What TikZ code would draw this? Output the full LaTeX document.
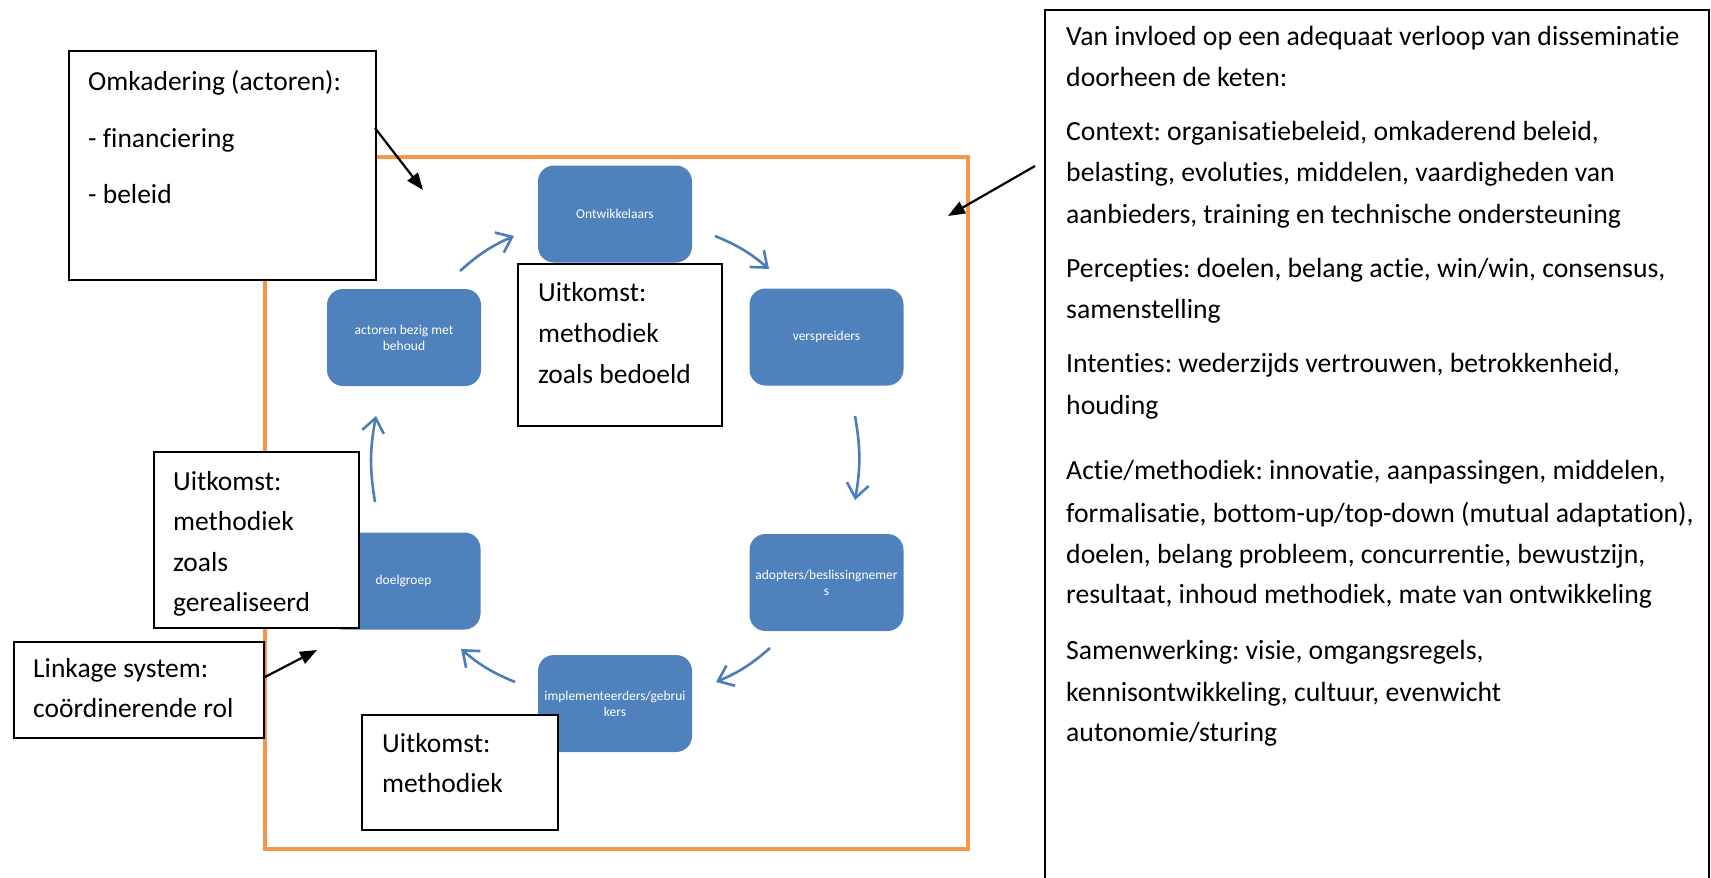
\documentclass[tikz,border=0pt]{standalone}
\usepackage{fontspec}
\setmainfont{Carlito}[Ligatures=NoCommon]
\frenchspacing
\usetikzlibrary{arrows.meta}
\definecolor{boxblue}{HTML}{4F81BD}
\definecolor{flowblue}{HTML}{4A7EBB}
\definecolor{frameorange}{HTML}{F79646}
\begin{document}
\begin{tikzpicture}[x=1pt,y=-1pt,
  stage/.style={fill=boxblue, draw=none, rounded corners=16pt,
    minimum width=154pt, minimum height=97pt, text=white, align=center,
    inner sep=1pt, font=\fontsize{13.5}{16}\selectfont},
  note/.style={draw=black, fill=white, line width=2pt, anchor=north west,
    inner sep=0pt},
  label/.style={anchor=base west, inner sep=0pt,
    font=\fontsize{27.5}{33}\selectfont},
  factor/.style={anchor=base west, inner sep=0pt,
    font=\fontsize{27.7}{33}\selectfont},
  flow/.style={draw=flowblue, line width=2.6pt, bend left=9,
    -{Straight Barb[length=14pt,width=22pt]}},
  pointer/.style={draw=black, line width=2.2pt,
    -{Triangle[length=17pt,width=13pt]}}]

\useasboundingbox (0,0) rectangle (1711,878);
\clip (0,0) rectangle (1711,878);

% outer frame of the dissemination chain
\draw[frameorange, line width=4.5pt] (265,157) rectangle (968,849);

% the six stages of the chain
\node[stage] (ont)   at (615,214)   {Ontwikkelaars};
\node[stage] (versp) at (826.5,337) {verspreiders};
\node[stage] (adopt) at (826.5,582.5) {adopters/beslissingnemer\\s};
\node[stage] (impl)  at (615,703.5) {implementeerders/gebrui\\kers};
\node[stage] (doel)  at (403.5,581) {doelgroep};
\node[stage] (behoud) at (404,337.5) {actoren bezig met\\behoud};

% cycle arrows between the stages
\coordinate (f1s) at (460,271); \coordinate (f1e) at (514,236);
\coordinate (f2s) at (715,236); \coordinate (f2e) at (769,269);
\coordinate (f3s) at (855,416); \coordinate (f3e) at (855,500);
\coordinate (f4s) at (770,648); \coordinate (f4e) at (716,682);
\coordinate (f5s) at (515,682); \coordinate (f5e) at (461,649);
\coordinate (f6s) at (375,502); \coordinate (f6e) at (376,416);
\draw[flow] (f1s) to (f1e);
\draw[flow] (f2s) to (f2e);
\draw[flow, bend left=10] (f3s) to (f3e);
\draw[flow] (f4s) to (f4e);
\draw[flow] (f5s) to (f5e);
\draw[flow, bend left=10] (f6s) to (f6e);

% annotation boxes
\node[note, minimum width=307pt, minimum height=229pt] (omk) at (68,50) {};
\node[note, minimum width=204pt, minimum height=162pt] (bedoeld) at (517,263) {};
\node[note, minimum width=205pt, minimum height=176pt] (gereal) at (153,451) {};
\node[note, minimum width=250pt, minimum height=96pt] (link) at (13,641) {};
\node[note, minimum width=196pt, minimum height=115pt] (meth) at (361,714) {};
\node[note, minimum width=664pt, minimum height=900pt] (ctx) at (1044,9) {};

% annotation texts
\node[label] (omk1) at (88,90)  {Omkadering (actoren):};
\node[label] (omk2) at (88,147) {- financiering};
\node[label] (omk3) at (88,203) {- beleid};

\node[label] (bed1) at (538,301) {Uitkomst:};
\node[label] (bed2) at (538,342) {methodiek};
\node[label] (bed3) at (538,383) {zoals bedoeld};

\node[label] (ger1) at (173,490) {Uitkomst:};
\node[label] (ger2) at (173,530) {methodiek};
\node[label] (ger3) at (173,571) {zoals};
\node[label] (ger4) at (173,611) {gerealiseerd};

\node[label] (lnk1) at (33,677) {Linkage system:};
\node[label] (lnk2) at (33,717) {coördinerende rol};

\node[label] (met1) at (382,752) {Uitkomst:};
\node[label] (met2) at (382,792) {methodiek};

\foreach \y/\t [count=\i] in {
  45.2/{Van invloed op een adequaat verloop van disseminatie},
  86.7/{doorheen de keten:},
  140.1/{Context: organisatiebeleid, omkaderend beleid,},
  181.6/{belasting, evoluties, middelen, vaardigheden van},
  223.1/{aanbieders, training en technische ondersteuning},
  277.6/{Percepties: doelen, belang actie, win/win, consensus,},
  318.0/{samenstelling},
  372.6/{Intenties: wederzijds vertrouwen, betrokkenheid,},
  414.0/{houding},
  479.5/{Actie/methodiek: innovatie, aanpassingen, middelen,},
  522.0/{formalisatie, bottom-up/top-down (mutual adaptation),},
  563.5/{doelen, belang probleem, concurrentie, bewustzijn,},
  603.9/{resultaat, inhoud methodiek, mate van ontwikkeling},
  659.5/{Samenwerking: visie, omgangsregels,},
  701.0/{kennisontwikkeling, cultuur, evenwicht},
  741.4/{autonomie/sturing}}
  \node[factor, name=ctxline\i] at (1066,\y) {\t};

% pointers from the annotations into the frame
\coordinate (pOmk)  at (375,128); \coordinate (tOmk)  at (423,190);
\coordinate (pCtx)  at (1035,166); \coordinate (tCtx) at (948,216);
\coordinate (pLink) at (263,678); \coordinate (tLink) at (317,650);
\draw[pointer] (pOmk) -- (tOmk);
\draw[pointer] (pCtx) -- (tCtx);
\draw[pointer] (pLink) -- (tLink);
\end{tikzpicture}
\end{document}
